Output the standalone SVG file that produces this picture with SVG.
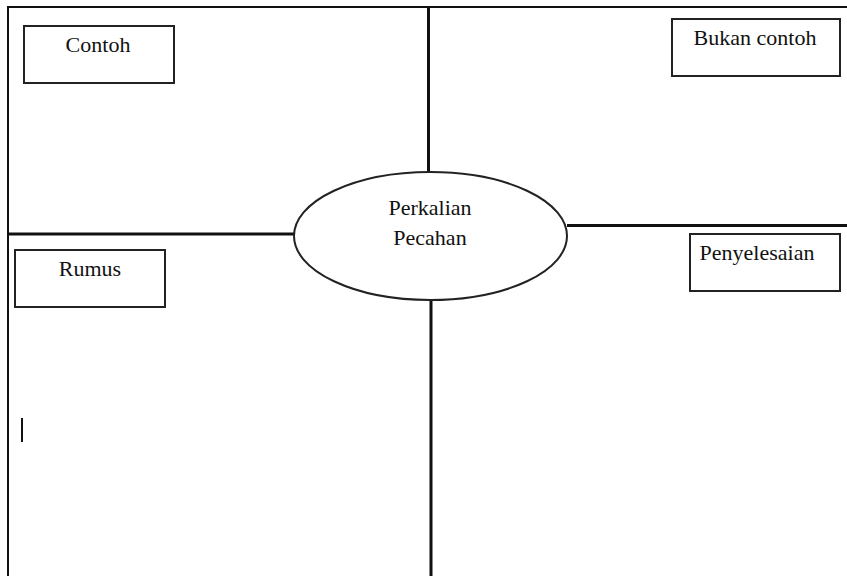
<svg xmlns="http://www.w3.org/2000/svg" width="847" height="576" viewBox="0 0 847 576">
<style>
.box{fill:#fff;stroke:#222;stroke-width:2}
.lbl{font-family:"Liberation Serif","Times New Roman",serif;font-size:22px;fill:#111;text-anchor:middle}
.div{stroke:#111;stroke-width:3;fill:none}
.frame{stroke:#111;stroke-width:2;fill:none}
</style>
<rect width="847" height="576" fill="#fff"/>
<g id="connectors">
<path class="frame" d="M8,576 V7 H847"/>
<line class="div" x1="428.5" y1="7" x2="428.5" y2="172"/>
<line class="div" x1="431" y1="300" x2="431" y2="576"/>
<line class="div" x1="8" y1="234" x2="294" y2="234"/>
<line class="div" x1="567" y1="225.5" x2="847" y2="225.5"/>
<line stroke="#111" stroke-width="2" x1="22" y1="418" x2="22" y2="442"/>
</g>
<g id="center">
<ellipse cx="430.5" cy="236" rx="136.5" ry="64" fill="#fff" stroke="#222" stroke-width="2"/>
<text class="lbl" x="430" y="215">Perkalian</text>
<text class="lbl" x="430" y="245">Pecahan</text>
</g>
<g id="contoh">
<rect class="box" x="24" y="26" width="150" height="57"/>
<text class="lbl" x="98" y="52">Contoh</text>
</g>
<g id="bukan-contoh">
<rect class="box" x="672" y="19" width="168" height="57"/>
<text class="lbl" x="755" y="45">Bukan contoh</text>
</g>
<g id="rumus">
<rect class="box" x="15" y="250" width="150" height="57"/>
<text class="lbl" x="90" y="276">Rumus</text>
</g>
<g id="penyelesaian">
<rect class="box" x="690" y="234" width="150" height="57"/>
<text class="lbl" x="757" y="260">Penyelesaian</text>
</g>
</svg>
